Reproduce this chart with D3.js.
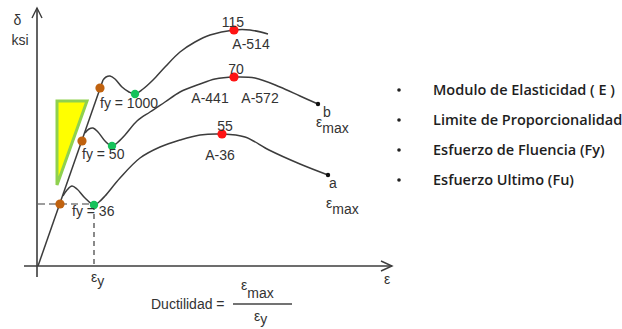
<!DOCTYPE html>
<html><head><meta charset="utf-8">
<script src="https://cdn.jsdelivr.net/npm/d3@7"></script>
<style>
html,body{margin:0;padding:0;background:#fff;}
svg{display:block;}
</style></head>
<body>
<svg id="chart" width="622" height="329"></svg>
<script>
// ---- data (strain units along x, stress units along y) ----
const elasticLine = [[1, 0], [66, 186]];
const curve36 = [[26, 70], [30, 76], [35, 80], [40, 77], [48, 68], [57, 61], [62, 64], [68, 70], [83, 88], [103, 108], [123, 119], [143, 126], [163, 131], [185, 132], [208, 129], [232, 116], [263, 102], [291, 91]];
const curve50 = [[48, 133], [52, 137], [56, 138], [61, 134], [68, 125], [75, 120], [80, 123], [88, 131], [100, 145], [113, 154], [128, 164], [143, 174], [163, 182], [178, 187], [197, 189], [218, 188], [243, 179], [263, 170], [281, 162]];
const curve1000 = [[66, 186], [69, 189], [73, 190], [78, 187], [85, 179], [92, 174], [98, 172], [106, 177], [116, 186], [128, 199], [143, 214], [158, 224], [173, 231], [197, 236], [213, 236], [231, 232]];
const yieldPoints = [[23, 62], [45, 125], [63, 178]];
const flowPoints = [[57, 61], [75, 120], [98, 172]];
const ultimatePoints = [[185, 132], [197, 189], [197, 236]];
const endPoints = [[291, 91], [281, 162]];
const triangle = [[20, 165], [50, 165], [20, 81]];
const dashH = [[1, 62], [57, 62]];
const dashV = [[57, 61], [57, 0]];
const numberLabels = ["115", "70", "55"];
const numberPos = [[196, 239], [199, 192], [188, 135]];
const gradeLabels = ["A-514", "A-441", "A-572", "A-36"];
const gradePos = [[214, 217], [173, 163], [223, 163], [183, 106]];
const fyLabels = ["fy = 1000", "fy = 50", "fy = 36"];
const fyPos = [[63, 158], [45, 107], [35, 50]];
const legendItems = ["Modulo de Elasticidad ( E )", "Limite de Proporcionalidad", "Esfuerzo de Fluencia (Fy)", "Esfuerzo Ultimo (Fu)"];

// ---- scales ----
const x = d3.scaleLinear().domain([0, 355]).range([37, 392]);
const y = d3.scaleLinear().domain([0, 258]).range([266, 8]);

const svg = d3.select("#chart");
svg.append("rect").attr("width", 622).attr("height", 329).attr("fill", "#fff");

const ink = "#3c3c3c";
const font = "'Liberation Sans', Arial, sans-serif";

// axes
svg.append("line").attr("x1", x(0)).attr("x2", x(0)).attr("y1", y(-11)).attr("y2", y(258))
  .attr("stroke", ink).attr("stroke-width", 1.6);
svg.append("line").attr("x1", x(-13)).attr("x2", x(355)).attr("y1", y(0)).attr("y2", y(0))
  .attr("stroke", ink).attr("stroke-width", 1.6);
svg.append("path").attr("d", `M${x(-5)},${y(248)} L${x(0)},${y(258)} L${x(5)},${y(248)}`)
  .attr("fill", "none").attr("stroke", ink).attr("stroke-width", 1.4);
svg.append("path").attr("d", `M${x(344)},${y(5)} L${x(355)},${y(0)} L${x(344)},${y(-5)}`)
  .attr("fill", "none").attr("stroke", ink).attr("stroke-width", 1.4);

// triangle
svg.append("polygon").attr("points", triangle.map(d => [x(d[0]), y(d[1])].join(",")).join(" "))
  .attr("fill", "#ffff00").attr("stroke", "#8fd14f").attr("stroke-width", 3).attr("stroke-linejoin", "miter");

// dashed guides
const lineGen = d3.line().x(d => x(d[0])).y(d => y(d[1]));
svg.append("path").attr("d", lineGen(dashH)).attr("stroke", ink).attr("stroke-width", 1.2)
  .attr("stroke-dasharray", "7,4").attr("fill", "none");
svg.append("path").attr("d", lineGen(dashV)).attr("stroke", ink).attr("stroke-width", 1.2)
  .attr("stroke-dasharray", "5,4").attr("fill", "none");

// curves
svg.append("path").attr("d", lineGen(elasticLine)).attr("stroke", ink).attr("stroke-width", 1.5).attr("fill", "none");
const curveGen = d3.line().x(d => x(d[0])).y(d => y(d[1])).curve(d3.curveCatmullRom.alpha(0.5));
[curve36, curve50, curve1000].forEach(c => {
  svg.append("path").attr("d", curveGen(c)).attr("stroke", ink).attr("stroke-width", 1.5).attr("fill", "none");
});

// points
const dots = (data, r, fill) => svg.append("g").selectAll("circle").data(data).join("circle")
  .attr("cx", d => x(d[0])).attr("cy", d => y(d[1])).attr("r", r).attr("fill", fill);
dots(yieldPoints, 4.6, "#c0620f");
dots(flowPoints, 4.2, "#16c25a");
dots(ultimatePoints, 4.6, "#ff1414");
dots(endPoints, 2.2, "#111");

// text helper
const txt = (s, px, py, opts = {}) => svg.append("text").attr("x", px).attr("y", py).text(s)
  .attr("font-family", opts.family || font).attr("font-size", opts.size || 14)
  .attr("fill", opts.fill || "#333").attr("text-anchor", opts.anchor || "start")
  .attr("font-weight", opts.weight || "normal");

numberLabels.forEach((s, i) => txt(s, x(numberPos[i][0]), y(numberPos[i][1]), {anchor: "middle"}));
gradeLabels.forEach((s, i) => txt(s, x(gradePos[i][0]), y(gradePos[i][1]), {anchor: "middle"}));
fyLabels.forEach((s, i) => txt(s, x(fyPos[i][0]), y(fyPos[i][1])));

// axis titles
txt("δ", 17.5, 25, {anchor: "middle", size: 14});
txt("ksi", 20, 45, {anchor: "middle", size: 14});
txt("ε", 387, 284, {anchor: "middle", size: 14});

// epsilon with subscript
const epsSub = (px, py, sub, drop) => {
  const t = svg.append("text").attr("x", px).attr("y", py).attr("font-family", font)
    .attr("font-size", 14).attr("fill", "#333");
  t.append("tspan").text("ε");
  t.append("tspan").attr("dy", drop).text(sub);
};
txt("b", 327, 117, {anchor: "middle"});
epsSub(316, 127, "max", 6);
txt("a", 333, 188, {anchor: "middle"});
epsSub(326, 208, "max", 6);
epsSub(91, 282, "y", 4);

// ductility formula
txt("Ductilidad =", 151, 309);
svg.append("line").attr("x1", 233).attr("x2", 292).attr("y1", 304).attr("y2", 304)
  .attr("stroke", "#444").attr("stroke-width", 1.3);
epsSub(241, 290, "max", 8);
epsSub(254, 321, "y", 3);

// legend
const leg = svg.append("g");
legendItems.forEach((s, i) => {
  const cy = 90 + i * 30;
  leg.append("circle").attr("cx", 399).attr("cy", cy).attr("r", 1.8).attr("fill", "#222");
  leg.append("text").attr("x", 433).attr("y", cy + 5).text(s)
    .attr("font-family", "'Open Sans', 'Noto Sans', sans-serif").attr("font-size", 14.5)
    .attr("font-weight", 600).attr("fill", "#1e1e1e");
});
</script>
</body></html>
